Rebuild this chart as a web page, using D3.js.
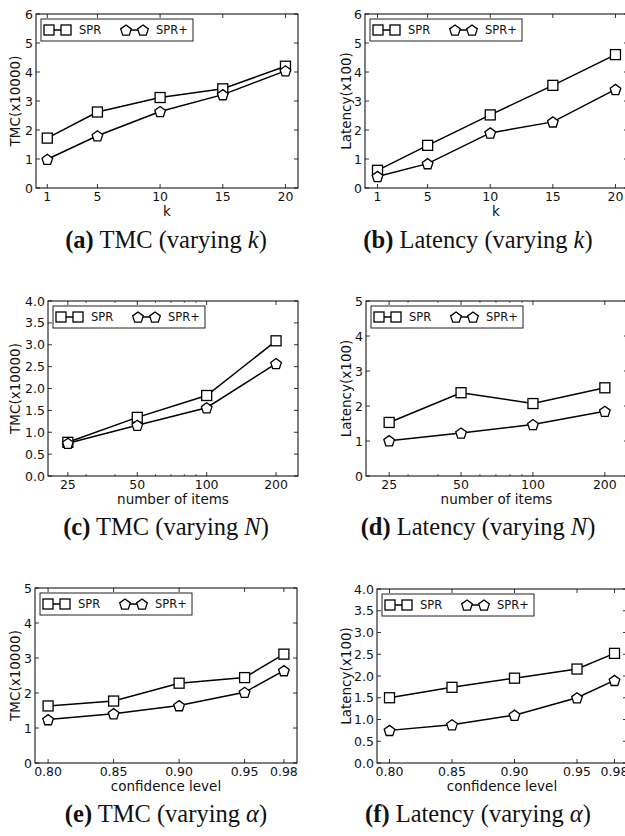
<!DOCTYPE html>
<html>
<head>
<meta charset="utf-8">
<script src="https://cdn.jsdelivr.net/npm/d3@7"></script>
<style>
  body { margin: 0; background: #fff; }
  text { fill: #111; }
</style>
</head>
<body>
<script>
// x values
var kValues = [1, 5, 10, 15, 20];
var nValues = [25, 50, 100, 200];
var alphaValues = [0.80, 0.85, 0.90, 0.95, 0.98];

// (a) TMC, varying k
var tmcK_spr = [1.72, 2.62, 3.12, 3.42, 4.20];
var tmcK_sprPlus = [0.99, 1.80, 2.64, 3.22, 4.04];
// (b) Latency, varying k
var latK_spr = [0.61, 1.47, 2.52, 3.54, 4.60];
var latK_sprPlus = [0.40, 0.84, 1.90, 2.28, 3.40];
// (c) TMC, varying N
var tmcN_spr = [0.77, 1.34, 1.84, 3.09];
var tmcN_sprPlus = [0.75, 1.16, 1.56, 2.57];
// (d) Latency, varying N
var latN_spr = [1.53, 2.38, 2.07, 2.52];
var latN_sprPlus = [1.01, 1.23, 1.47, 1.85];
// (e) TMC, varying alpha
var tmcA_spr = [1.63, 1.77, 2.28, 2.44, 3.11];
var tmcA_sprPlus = [1.24, 1.41, 1.64, 2.02, 2.64];
// (f) Latency, varying alpha
var latA_spr = [1.50, 1.74, 1.95, 2.16, 2.52];
var latA_sprPlus = [0.75, 0.88, 1.10, 1.50, 1.90];

// tick labels
var yTicks6 = [0, 1, 2, 3, 4, 5, 6];
var yTicks5 = [0, 1, 2, 3, 4, 5];
var yTicks4 = [0, 0.5, 1, 1.5, 2, 2.5, 3, 3.5, 4];
var nMinorTicks = [20, 30, 40, 60, 70, 80, 90, 300];

var seriesNames = ["SPR", "SPR+"];

var svgWidth = 625;
var svgHeight = 836;

var svg = d3.select("body")
            .append("svg")
            .attr("width", svgWidth)
            .attr("height", svgHeight);

// panel layout
var panels = [
  { left: 36, top: 14, right: 298, bottom: 188, xs: kValues, a: tmcK_spr, b: tmcK_sprPlus,
    xType: "lin", xDomain: [0.1, 21], xTicks: kValues, xFmt: d3.format("d"),
    yMax: 6, yTicks: yTicks6, yFmt: d3.format("d"), yLabel: "TMC(x10000)", yLabX: 15, xLabel: "k",
    cap: ["(a)", " TMC (varying ", "k", ")"], capX: 166, capY: 248 },
  { left: 365, top: 14, right: 628, bottom: 188, xs: kValues, a: latK_spr, b: latK_sprPlus,
    xType: "lin", xDomain: [0, 21], xTicks: kValues, xFmt: d3.format("d"),
    yMax: 6, yTicks: yTicks6, yFmt: d3.format("d"), yLabel: "Latency(x100)", yLabX: 346, xLabel: "k",
    cap: ["(b)", " Latency (varying ", "k", ")"], capX: 478, capY: 248 },
  { left: 48, top: 301, right: 298, bottom: 476, xs: nValues, a: tmcN_spr, b: tmcN_sprPlus,
    xType: "log", xDomain: [20.5, 249], xTicks: nValues, xFmt: d3.format("d"),
    yMax: 4, yTicks: yTicks4, yFmt: d3.format(".1f"), yLabel: "TMC(x10000)", yLabX: 15, xLabel: "number of items",
    cap: ["(c)", " TMC (varying ", "N", ")"], capX: 166, capY: 535 },
  { left: 366, top: 301, right: 628, bottom: 476, xs: nValues, a: latN_spr, b: latN_sprPlus,
    xType: "log", xDomain: [20, 250], xTicks: nValues, xFmt: d3.format("d"),
    yMax: 5, yTicks: yTicks5, yFmt: d3.format("d"), yLabel: "Latency(x100)", yLabX: 346, xLabel: "number of items",
    cap: ["(d)", " Latency (varying ", "N", ")"], capX: 478, capY: 535 },
  { left: 35, top: 588, right: 297, bottom: 763, xs: alphaValues, a: tmcA_spr, b: tmcA_sprPlus,
    xType: "lin", xDomain: [0.79, 0.99], xTicks: alphaValues, xFmt: d3.format(".2f"),
    yMax: 5, yTicks: yTicks5, yFmt: d3.format("d"), yLabel: "TMC(x10000)", yLabX: 15, xLabel: "confidence level",
    cap: ["(e)", " TMC (varying ", "\u03b1", ")"], capX: 166, capY: 822 },
  { left: 377, top: 589, right: 627, bottom: 763, xs: alphaValues, a: latA_spr, b: latA_sprPlus,
    xType: "lin", xDomain: [0.79, 0.99], xTicks: alphaValues, xFmt: d3.format(".2f"),
    yMax: 4, yTicks: yTicks4, yFmt: d3.format(".1f"), yLabel: "Latency(x100)", yLabX: 346, xLabel: "confidence level",
    cap: ["(f)", " Latency (varying ", "\u03b1", ")"], capX: 478, capY: 822 }
];

var font = "'DejaVu Sans', sans-serif";

// pentagon marker path
function pentagon(r) {
  var pts = d3.range(5).map(function(i) {
    var a = -Math.PI / 2 + i * 2 * Math.PI / 5;
    return [r * Math.cos(a), r * Math.sin(a) + 0.6];
  });
  return "M" + pts.join("L") + "Z";
}

function drawMarker(g, kind, x, y) {
  if (kind === 0) {
    g.append("rect")
     .attr("x", x - 5).attr("y", y - 5)
     .attr("width", 10).attr("height", 10)
     .attr("fill", "#fff").attr("stroke", "#000").attr("stroke-width", 1.3);
  } else {
    g.append("path")
     .attr("d", pentagon(5.6))
     .attr("transform", "translate(" + x + "," + y + ")")
     .attr("fill", "#fff").attr("stroke", "#000").attr("stroke-width", 1.3);
  }
}

panels.forEach(function(p) {
  var g = svg.append("g");

  var x = (p.xType === "log" ? d3.scaleLog() : d3.scaleLinear())
            .domain(p.xDomain)
            .range([p.left, p.right]);
  var y = d3.scaleLinear()
            .domain([0, p.yMax])
            .range([p.bottom, p.top]);

  // clip to the picture area of this panel
  var clipId = "clip" + p.left + "_" + p.top;
  svg.append("clipPath").attr("id", clipId)
     .append("rect")
     .attr("x", p.left).attr("y", p.top)
     .attr("width", p.right - p.left).attr("height", p.bottom - p.top);

  // inward ticks on all four sides (classic style)
  var tickLen = 4;
  p.xTicks.forEach(function(t) {
    g.append("line").attr("x1", x(t)).attr("x2", x(t))
     .attr("y1", p.bottom).attr("y2", p.bottom - tickLen)
     .attr("stroke", "#000").attr("stroke-width", 0.8);
    g.append("line").attr("x1", x(t)).attr("x2", x(t))
     .attr("y1", p.top).attr("y2", p.top + tickLen)
     .attr("stroke", "#000").attr("stroke-width", 0.8);
    g.append("text")
     .attr("x", x(t)).attr("y", p.bottom + 12.5)
     .attr("text-anchor", "middle")
     .style("font-family", font).style("font-size", "12.5px")
     .text(p.xFmt(t));
  });
  if (p.xType === "log") {
    nMinorTicks.filter(function(t) { return t > p.xDomain[0] && t < p.xDomain[1]; })
      .forEach(function(t) {
        g.append("line").attr("x1", x(t)).attr("x2", x(t))
         .attr("y1", p.bottom).attr("y2", p.bottom - 2)
         .attr("stroke", "#000").attr("stroke-width", 0.6);
        g.append("line").attr("x1", x(t)).attr("x2", x(t))
         .attr("y1", p.top).attr("y2", p.top + 2)
         .attr("stroke", "#000").attr("stroke-width", 0.6);
      });
  }
  p.yTicks.forEach(function(t) {
    g.append("line").attr("x1", p.left).attr("x2", p.left + tickLen)
     .attr("y1", y(t)).attr("y2", y(t))
     .attr("stroke", "#000").attr("stroke-width", 0.8);
    g.append("line").attr("x1", p.right).attr("x2", p.right - tickLen)
     .attr("y1", y(t)).attr("y2", y(t))
     .attr("stroke", "#000").attr("stroke-width", 0.8);
    g.append("text")
     .attr("x", p.left - 3).attr("y", y(t))
     .attr("dy", "0.36em")
     .attr("text-anchor", "end")
     .style("font-family", font).style("font-size", "12.5px")
     .text(p.yFmt(t));
  });

  // frame
  g.append("rect")
   .attr("x", p.left).attr("y", p.top)
   .attr("width", p.right - p.left).attr("height", p.bottom - p.top)
   .attr("fill", "none").attr("stroke", "#000").attr("stroke-width", 1);

  // series
  var plot = g.append("g").attr("clip-path", "url(#" + clipId + ")");
  [p.a, p.b].forEach(function(vals, si) {
    var pts = p.xs.map(function(xv, i) { return [x(xv), y(vals[i])]; });
    plot.append("path")
        .attr("d", d3.line()(pts))
        .attr("fill", "none").attr("stroke", "#000").attr("stroke-width", 1.5);
    pts.forEach(function(pt) { drawMarker(plot, si, pt[0], pt[1]); });
  });

  // legend
  var lx = p.left + 5, ly = p.top + 5;
  var leg = g.append("g");
  leg.append("rect")
     .attr("x", lx).attr("y", ly).attr("width", 152).attr("height", 22)
     .attr("fill", "#fff").attr("stroke", "#222").attr("stroke-width", 1);
  seriesNames.forEach(function(name, si) {
    var ox = lx + si * 77;
    var my = ly + 11;
    leg.append("line").attr("x1", ox + 8).attr("x2", ox + 25)
       .attr("y1", my).attr("y2", my)
       .attr("stroke", "#000").attr("stroke-width", 1.5);
    drawMarker(leg, si, ox + 8, my);
    drawMarker(leg, si, ox + 25, my);
    leg.append("text")
       .attr("x", ox + 38).attr("y", my).attr("dy", "0.36em")
       .style("font-family", font).style("font-size", "11.5px")
       .text(name);
  });

  // axis labels
  g.append("text")
   .attr("x", (p.left + Math.min(p.right, svgWidth)) / 2 + (p.right > svgWidth ? 1 : 0))
   .attr("y", p.bottom + 28)
   .attr("text-anchor", "middle")
   .style("font-family", font).style("font-size", "13.5px")
   .text(p.xLabel);

  g.append("text")
   .attr("transform", "translate(" + p.yLabX + "," + ((p.top + p.bottom) / 2) + ") rotate(-90)")
   .attr("dy", "0.36em")
   .attr("text-anchor", "middle")
   .style("font-family", font).style("font-size", "13.5px")
   .text(p.yLabel);

  // caption
  var cap = g.append("text")
             .attr("x", p.capX).attr("y", p.capY)
             .attr("text-anchor", "middle")
             .style("font-family", "'Liberation Serif', serif")
             .style("font-size", "24.5px");
  cap.append("tspan").style("font-weight", "bold").text(p.cap[0]);
  cap.append("tspan").text(p.cap[1]);
  cap.append("tspan").style("font-style", "italic").text(p.cap[2]);
  cap.append("tspan").text(p.cap[3]);
});
</script>
</body>
</html>
